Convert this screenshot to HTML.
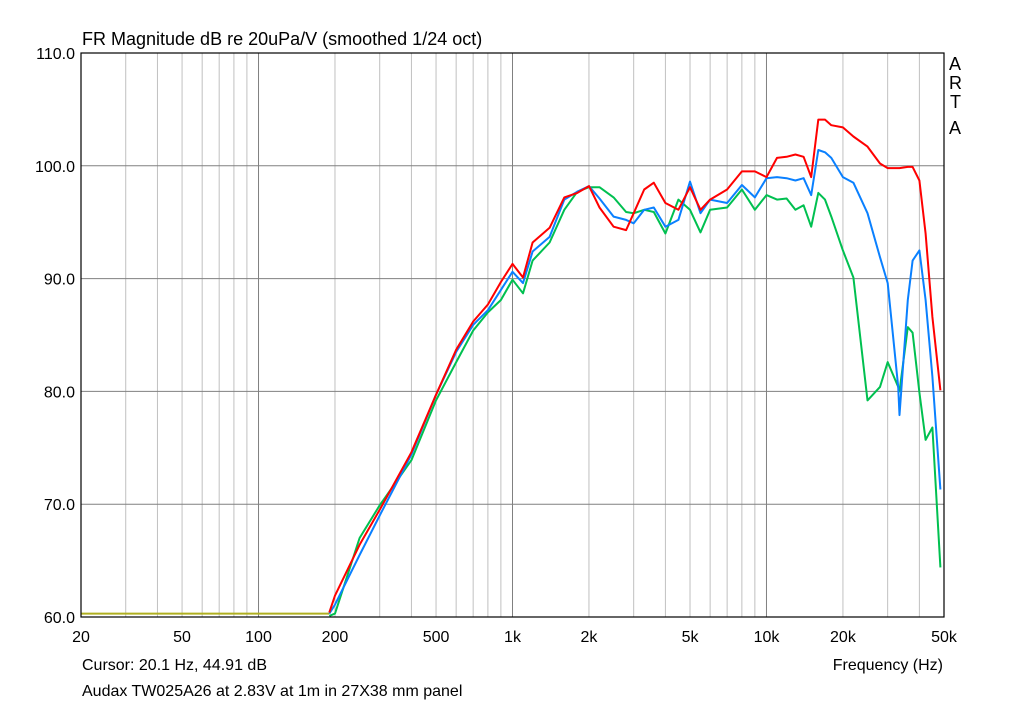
<!DOCTYPE html>
<html><head><meta charset="utf-8"><style>
body{margin:0;background:#fff;}
svg text{font-family:"Liberation Sans",Arial,sans-serif;}
</style></head><body>
<svg width="1024" height="705" xmlns="http://www.w3.org/2000/svg">
<rect width="1024" height="705" fill="#fff"/>
<text x="82" y="45" font-size="18">FR Magnitude dB re 20uPa/V (smoothed 1/24 oct)</text>
<g id="grid"></g>
<g id="series"></g>
<rect x="81" y="53" width="863" height="564" fill="none" stroke="#000" stroke-width="1.2"/>
<g id="labels"></g>
<g font-size="18">
<text x="949" y="70">A</text><text x="949" y="89">R</text><text x="950" y="108">T</text><text x="949" y="134">A</text></g>
<text x="82" y="670" font-size="16">Cursor: 20.1 Hz, 44.91 dB</text>
<text x="943" y="670" font-size="16" text-anchor="end">Frequency (Hz)</text>
<text x="82" y="696" font-size="16">Audax TW025A26 at 2.83V at 1m in 27X38 mm panel</text>
</svg>
<script>
const yTicks=[60,70,80,90,100,110];
const yTickLabels=["60.0","70.0","80.0","90.0","100.0","110.0"];
const xTicks=[20,50,100,200,500,1000,2000,5000,10000,20000,50000];
const xTickLabels=["20","50","100","200","500","1k","2k","5k","10k","20k","50k"];
const freqs=[190,200,250,300,400,500,600,700,800,900,1000,1100,1200,1400,1600,1800,2000,2200,2500,2800,3000,3300,3600,4000,4500,5000,5500,6000,7000,8000,9000,10000,11000,12000,13000,14000,15000,16000,17000,18000,20000,22000,25000,28000,30000,33000,33400,36000,37600,40000,42300,45000,48400];
const redDb=[60.4,61.9,66.4,69.5,74.6,79.7,83.7,86.2,87.7,89.7,91.3,90.1,93.2,94.5,97.2,97.6,98.2,96.3,94.6,94.3,95.8,97.9,98.5,96.7,96.1,98.1,96.1,97.0,97.9,99.5,99.5,99.0,100.7,100.8,101.0,100.8,99.0,104.1,104.1,103.6,103.4,102.6,101.7,100.2,99.8,99.8,99.8,99.9,99.9,98.7,94.0,86.6,80.1];
const blueDb=[60.3,61.1,65.5,69.0,74.4,79.7,83.5,85.9,87.2,89.0,90.6,89.6,92.4,93.7,97.0,97.7,98.2,97.1,95.5,95.2,94.9,96.1,96.3,94.6,95.2,98.6,95.8,97.0,96.7,98.3,97.2,98.9,99.0,98.9,98.7,98.9,97.4,101.4,101.2,100.7,99.0,98.5,95.8,91.9,89.6,80.4,77.9,88.1,91.6,92.5,88.1,81.3,71.3];
const greenDb=[60.1,60.3,67.0,69.9,73.9,79.2,82.6,85.4,87.0,88.1,89.9,88.7,91.6,93.2,96.1,97.7,98.1,98.1,97.2,95.9,95.8,96.1,95.9,94.0,97.0,96.1,94.1,96.1,96.3,97.9,96.1,97.4,97.0,97.1,96.1,96.5,94.6,97.6,97.0,95.5,92.5,90.1,79.2,80.4,82.6,80.4,80.0,85.7,85.2,79.9,75.7,76.8,64.4];
const flatFreqs=[20,190];
const flatDb=[60.3,60.3];
const X0=81,X1=944,Y0=617,Y1=53;
const lx=f=>X0+(Math.log10(f/20))/Math.log10(50000/20)*(X1-X0);
const ly=d=>Y0-(d-60)/50*(Y0-Y1);
const NS="http://www.w3.org/2000/svg";
const grid=document.getElementById('grid'),ser=document.getElementById('series'),lab=document.getElementById('labels');
function mk(t,a,p){const e=document.createElementNS(NS,t);for(const k in a)e.setAttribute(k,a[k]);p.appendChild(e);return e;}
// minor vertical grid
for(let dec=10;dec<=10000;dec*=10){for(let m=1;m<10;m++){const f=dec*m;if(f<20||f>50000)continue;
 const major=(m===1);const x=lx(f);
 const l=mk('line',{x1:x,x2:x,y1:Y1,y2:Y0,stroke:major?'#808080':'#c0c0c0','stroke-width':1},grid);
 
 }}
yTicks.forEach((v,i)=>{const y=ly(v);
 const l=mk('line',{x1:X0,x2:X1,y1:y,y2:y,stroke:'#808080','stroke-width':1},grid);
 
 
 const t=mk('text',{x:X0-6,y:y+6,'font-size':16,'text-anchor':'end'},lab);t.textContent=yTickLabels[i];
 
 });
xTicks.forEach((v,i)=>{const x=lx(v);
 const t=mk('text',{x:x,y:642,'font-size':16,'text-anchor':'middle'},lab);t.textContent=xTickLabels[i];
 
 });
function line(fs,ds,col,name){const pts=fs.map((f,i)=>lx(f).toFixed(1)+','+ly(ds[i]).toFixed(1)).join(' ');
 const p=mk('polyline',{points:pts,fill:'none',stroke:col,'stroke-width':2,'stroke-linejoin':'round'},ser);
 
 }
line(flatFreqs,flatDb,'#b0b020','low-freq-floor-line');
line(freqs,greenDb,'#00c050','green-response-curve');
line(freqs,blueDb,'#0a80ff','blue-response-curve');
line(freqs,redDb,'#ff0000','red-response-curve');
</script>
</body></html>
